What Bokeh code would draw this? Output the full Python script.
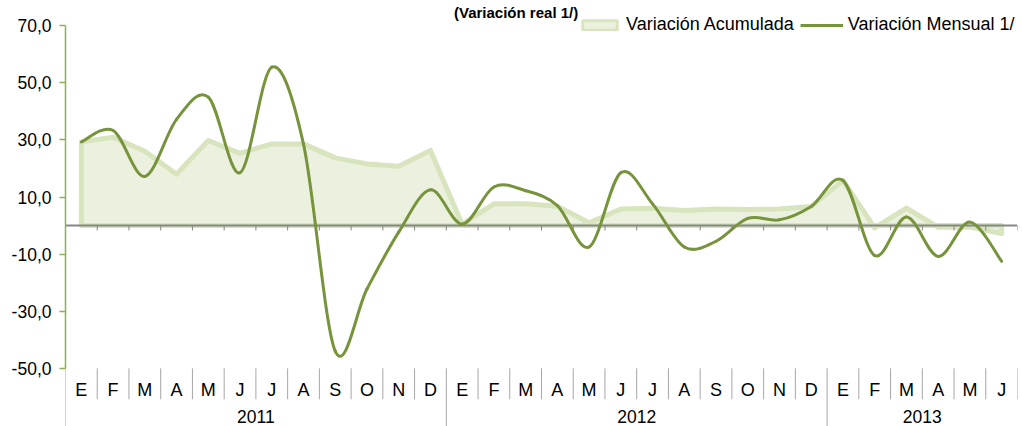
import numpy as np
from bokeh.plotting import figure
from bokeh.models import Range1d, FixedTicker, Legend, LegendItem, Label
from bokeh.core.properties import value
from bokeh.embed import file_html
from bokeh.resources import INLINE

# ---------------- data ----------------
title_text = "(Variación real 1/)"
series_names = ["Variación Acumulada", "Variación Mensual 1/"]
years = ["2011", "2012", "2013"]
year_counts = [12, 12, 6]
months = ["E", "F", "M", "A", "M", "J", "J", "A", "S", "O", "N", "D",
          "E", "F", "M", "A", "M", "J", "J", "A", "S", "O", "N", "D",
          "E", "F", "M", "A", "M", "J"]
acumulada = [29.3, 30.9, 26.0, 18.0, 29.8, 25.3, 28.6, 28.6, 23.7, 21.6, 20.8, 26.3,
             0.5, 7.6, 7.6, 6.8, 1.0, 5.8, 6.1, 5.3, 5.8, 5.6, 5.8, 6.7,
             15.8, -0.8, 6.1, -0.6, -0.5, -2.8]
mensual = [29.3, 33.3, 17.2, 37.2, 45.0, 18.5, 55.5, 28.5, -44.0, -22.2, -2.3, 12.5,
           0.5, 13.5, 12.2, 7.0, -7.5, 18.5, 7.6, -7.5, -5.5, 2.5, 2.0, 6.7,
           15.8, -10.5, 3.0, -10.8, 1.2, -12.5]
y_ticks = [-50, -30, -10, 10, 30, 50, 70]
y_tick_labels = ["-50,0", "-30,0", "-10,0", "10,0", "30,0", "50,0", "70,0"]

# ---------------- styles ----------------
FONT = "Liberation Sans"
C_LINE = "#77933C"
C_AXIS = "#8DAF55"
C_FILL = "#EBF1DE"
C_BAND = "#D7E4BD"
C_GRAY = "#868686"
C_SEP = "#A6A6A6"

W, H = 1022, 426
B_LEFT, B_RIGHT, B_TOP, B_BOTTOM = 65, 5, 0, 0
Y_AX_MAX, Y_AX_MIN = 70.0, -50.0
PX_PER_UNIT = 2.855
UPP = 1.0 / PX_PER_UNIT          # data units per pixel
FRAME_H = H - B_TOP - B_BOTTOM
Y_FRAME_TOP = Y_AX_MAX + 25.2 * UPP
Y_BOTTOM = Y_FRAME_TOP - FRAME_H * UPP

n = len(months)
xc = np.arange(n) + 0.5

p = figure(width=W, height=H, output_backend="svg", toolbar_location=None,
           x_range=Range1d(0, n), y_range=Range1d(Y_BOTTOM, Y_FRAME_TOP),
           x_axis_type=None,
           min_border_left=B_LEFT, min_border_right=B_RIGHT,
           min_border_top=B_TOP, min_border_bottom=B_BOTTOM)
p.outline_line_color = None
p.grid.visible = False
p.background_fill_color = "white"
p.border_fill_color = "white"

# y axis
ya = p.yaxis[0]
ya.ticker = FixedTicker(ticks=y_ticks, minor_ticks=[])
ya.major_label_overrides = {t: l for t, l in zip(y_ticks, y_tick_labels)}
ya.bounds = (Y_AX_MIN, Y_AX_MAX)
ya.axis_line_color = C_AXIS
ya.axis_line_width = 1.5
ya.major_tick_line_color = C_AXIS
ya.major_tick_line_width = 1.5
ya.major_tick_out = 6
ya.major_tick_in = 0
ya.minor_tick_line_color = None
ya.major_label_text_font = FONT
ya.major_label_text_font_size = "17.5px"
ya.major_label_text_color = "black"
ya.major_label_standoff = 8

# area (Variación Acumulada)
px = np.concatenate([[xc[0]], xc, [xc[-1]]])
py = np.concatenate([[0.0], np.array(acumulada, float), [0.0]])
p.patch(px, py, fill_color=C_FILL, line_color=C_BAND, line_width=5, line_join="round")

# zero axis line and its ticks
p.hspan(y=[0], line_color=C_GRAY, line_width=2)
bounds_x = np.arange(n + 1)
p.segment(x0=bounds_x, y0=np.zeros(n + 1), x1=bounds_x, y1=np.full(n + 1, -5 * UPP),
          line_color=C_GRAY, line_width=1)

# smoothed line (Variación Mensual) via cubic Bezier segments
ym = np.array(mensual, float)
i = np.arange(n - 1)
prv = np.maximum(i - 1, 0)
nxt = np.minimum(i + 2, n - 1)
cx0 = xc[i] + (xc[i + 1] - xc[prv]) / 6.0
cy0 = ym[i] + (ym[i + 1] - ym[prv]) / 6.0
cx1 = xc[i + 1] - (xc[nxt] - xc[i]) / 6.0
cy1 = ym[i + 1] - (ym[nxt] - ym[i]) / 6.0
p.bezier(x0=xc[i], y0=ym[i], x1=xc[i + 1], y1=ym[i + 1],
         cx0=cx0, cy0=cy0, cx1=cx1, cy1=cy1,
         line_color=C_LINE, line_width=3, line_cap="round")

# category axis at the bottom (months, years, separators)
year_starts = np.concatenate([[0], np.cumsum(year_counts)[:-1]])
year_centers = year_starts + np.array(year_counts) / 2.0
month_seps = [b for b in range(1, n + 1) if b not in set(year_starts.tolist())]
p.segment(x0=month_seps, y0=[Y_AX_MIN] * len(month_seps),
          x1=month_seps, y1=[Y_AX_MIN - 31 * UPP] * len(month_seps),
          line_color=C_SEP, line_width=1)
p.segment(x0=year_starts, y0=[Y_AX_MIN] * len(year_starts),
          x1=year_starts, y1=[Y_BOTTOM] * len(year_starts),
          line_color=C_SEP, line_width=1)
p.text(x=xc, y=[Y_AX_MIN - 21.7 * UPP] * n, text=months,
       text_font=value(FONT), text_font_size="18px", text_color="black",
       text_align="center", text_baseline="middle")
p.text(x=year_centers, y=[Y_AX_MIN - 48.5 * UPP] * len(years), text=years,
       text_font=value(FONT), text_font_size="17.5px", text_color="black",
       text_align="center", text_baseline="middle")

# legend (swatch renderers hold no visible data)
nan1 = np.array([np.nan])
dummy_area = p.quad(left=nan1, right=nan1, top=nan1, bottom=nan1, fill_color=C_FILL,
                    line_color=C_BAND, line_width=3)
dummy_line = p.line(x=nan1, y=nan1, line_color=C_LINE, line_width=3)
legend = Legend(items=[LegendItem(label=series_names[0], renderers=[dummy_area]),
                       LegendItem(label=series_names[1], renderers=[dummy_line])],
                orientation="horizontal", location=(513, 391), padding=0, margin=0,
                spacing=6, label_standoff=5, glyph_width=43, glyph_height=12,
                label_text_font=FONT, label_text_font_size="18px",
                label_text_color="black",
                background_fill_alpha=0, border_line_alpha=0)
p.add_layout(legend)

# title
p.add_layout(Label(x=14.2, y=Y_FRAME_TOP - 12 * UPP, text=title_text,
                   text_font=FONT, text_font_size="15px", text_font_style="bold",
                   text_align="center", text_baseline="alphabetic", text_color="black"))

open("out.html", "w").write(file_html(p, INLINE))
